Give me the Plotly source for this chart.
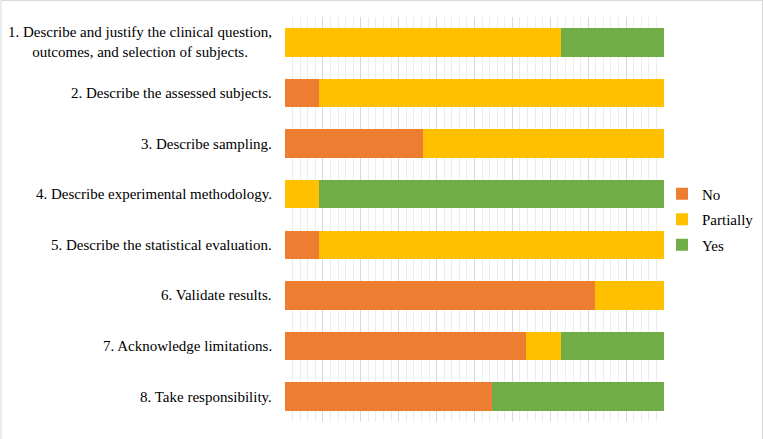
import plotly.graph_objects as go

categories = [
    "1. Describe and justify the clinical question,<br>outcomes, and selection of subjects.",
    "2. Describe the assessed subjects.",
    "3. Describe sampling.",
    "4. Describe experimental methodology.",
    "5. Describe the statistical evaluation.",
    "6. Validate results.",
    "7. Acknowledge limitations.",
    "8. Take responsibility.",
]
no_counts = [0, 1, 4, 0, 1, 9, 7, 6]
partially_counts = [8, 10, 7, 1, 10, 2, 1, 0]
yes_counts = [3, 0, 0, 10, 0, 0, 3, 5]

series = [
    ("No", no_counts, "#ED7D31"),
    ("Partially", partially_counts, "#FFC000"),
    ("Yes", yes_counts, "#70AD47"),
]

fig = go.Figure()
for name, vals, color in series:
    fig.add_trace(go.Bar(
        y=categories, x=vals, name=name, orientation="h",
        marker=dict(color=color, line=dict(width=0)),
        legendgroup=name,
    ))

FONT = "Liberation Serif, Times New Roman, serif"

for cat in categories:
    fig.add_annotation(
        x=0, xref="paper", y=cat, yref="y", text=cat, showarrow=False,
        xanchor="right", align="center", xshift=-11,
        font=dict(family=FONT, size=15, color="#000000"),
    )

W, H = 764, 439
L, R, T, B = 285, 100, 17, 17
pw, ph = W - L - R, H - T - B
fig.add_shape(
    type="rect", xref="paper", yref="paper",
    x0=(1.0 - L) / pw, x1=(W - 1.5 - L) / pw,
    y0=(B - (H - 1.5)) / ph, y1=1 + (T - 0.5) / ph,
    line=dict(color="#D9D9D9", width=1), fillcolor="rgba(0,0,0,0)", layer="below",
)

fig.update_layout(
    width=W, height=H,
    margin=dict(l=L, r=R, t=T, b=B, autoexpand=False),
    barmode="stack", barnorm="percent", bargap=0.435,
    plot_bgcolor="white", paper_bgcolor="white",
    font=dict(family=FONT, size=15, color="#000000"),
    showlegend=True,
    legend=dict(
        x=(662 - L) / pw, y=0.5, xanchor="left", yanchor="middle",
        traceorder="grouped", tracegroupgap=3,
        bgcolor="rgba(0,0,0,0)",
        font=dict(family=FONT, size=15, color="#000000"),
        itemwidth=30,
    ),
    xaxis=dict(
        range=[0, 100], showticklabels=False, ticks="",
        showgrid=True, gridcolor="#D9D9D9", gridwidth=1, dtick=10,
        zeroline=False, showline=False,
        minor=dict(dtick=2, showgrid=True, gridcolor="#EDEDED", gridwidth=1, ticks=""),
        fixedrange=True,
    ),
    yaxis=dict(
        autorange="reversed", showticklabels=False, ticks="",
        showgrid=False, zeroline=False, showline=False, fixedrange=True,
    ),
)

fig.write_html(
    "out.html",
    config={"displayModeBar": False},
    post_script="document.body.style.margin='0';document.body.style.overflow='hidden';",
)
